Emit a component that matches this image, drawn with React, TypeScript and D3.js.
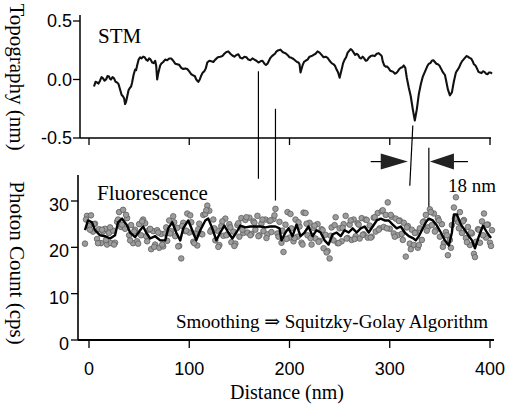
import React from 'react';
import * as d3 from 'd3';

// STM topography trace: [distance nm, height nm]
const stmTrace: [number, number][] = [
  [5, -0.06], [8, -0.025], [11, -0.01], [14, 0.01], [17, 0.0], [20, 0.025], [22, 0.0], [25, 0.01],
  [28, -0.025], [31, -0.085], [34, -0.145], [36, -0.21], [38, -0.15], [41, -0.07], [43, -0.025],
  [46, 0.085], [48, 0.12], [51, 0.19], [54, 0.195], [57, 0.17], [60, 0.18], [63, 0.145], [66, 0.16],
  [68, 0.0], [70, 0.085], [72, 0.135], [76, 0.17], [80, 0.18], [84, 0.16], [88, 0.13], [92, 0.1],
  [96, 0.095], [100, 0.07], [104, 0.035], [107, 0.0], [109, -0.02], [112, 0.035], [115, 0.07],
  [118, 0.145], [122, 0.155], [126, 0.17], [131, 0.195], [135, 0.22], [139, 0.24], [143, 0.205],
  [147, 0.21], [151, 0.185], [155, 0.195], [159, 0.17], [163, 0.18], [167, 0.16], [171, 0.155],
  [175, 0.135], [178, 0.135], [181, 0.185], [184, 0.21], [187, 0.24], [191, 0.255], [194, 0.23],
  [198, 0.21], [202, 0.185], [206, 0.16], [209, 0.145], [211, 0.06], [213, 0.12], [216, 0.16],
  [220, 0.195], [224, 0.21], [228, 0.24], [232, 0.21], [236, 0.195], [240, 0.16], [244, 0.13],
  [247, 0.085], [250, 0.015], [252, 0.085], [255, 0.17], [258, 0.23], [261, 0.26], [264, 0.23],
  [267, 0.22], [270, 0.185], [273, 0.195], [276, 0.16], [279, 0.185], [283, 0.205], [287, 0.22],
  [291, 0.21], [293, 0.155], [296, 0.11], [299, 0.095], [302, 0.07], [305, 0.05], [308, 0.07],
  [311, 0.1], [314, 0.12], [317, 0.015], [319, -0.07], [321, -0.145], [323, -0.255], [325, -0.35],
  [327, -0.255], [329, -0.125], [331, -0.04], [333, 0.025], [336, 0.085], [339, 0.135], [342, 0.16],
  [345, 0.15], [348, 0.13], [351, 0.095], [354, 0.05], [356, 0.0], [358, -0.085], [360, -0.135],
  [362, -0.11], [364, -0.015], [366, 0.06], [369, 0.1], [372, 0.155], [375, 0.185], [378, 0.195],
  [381, 0.18], [384, 0.13], [387, 0.095], [390, 0.06], [393, 0.07], [396, 0.05], [399, 0.06], [402, 0.05],
];

// in-between readings of the STM trace (the small steps of the scan)
const stmDetail: [number, number][] = [
  [6.5, -0.02], [9.5, -0.035], [12.5, 0.02], [15.5, -0.01], [18.5, 0.03], [21, 0.005], [23.5, 0.02],
  [26.5, -0.02], [29.5, -0.04], [32.5, -0.13], [35, -0.16], [37, -0.19], [39.5, -0.09], [42, -0.06],
  [44.5, 0.04], [47, 0.08], [49.5, 0.17], [52.5, 0.18], [55.5, 0.19], [58.5, 0.16], [61.5, 0.17],
  [64.5, 0.14], [67, 0.12], [69, 0.05], [71, 0.12], [74, 0.15], [78, 0.165], [82, 0.18], [86, 0.135],
  [90, 0.125], [94, 0.09], [98, 0.09], [102, 0.045], [105.5, 0.03], [110.5, 0.0], [113.5, 0.06],
  [116.5, 0.095], [120, 0.16], [124, 0.15], [128.5, 0.19], [133, 0.2], [137, 0.235], [141, 0.22],
  [145, 0.195], [149, 0.215], [153, 0.18], [157, 0.19], [161, 0.165], [165, 0.17], [169, 0.145],
  [173, 0.16], [176.5, 0.125], [179.5, 0.16], [182.5, 0.2], [185.5, 0.22], [189, 0.25], [192.5, 0.24],
  [196, 0.225], [200, 0.19], [204, 0.175], [207.5, 0.15], [210, 0.13], [214.5, 0.15], [218, 0.17],
  [222, 0.2], [226, 0.22], [230, 0.23], [234, 0.19], [238, 0.185], [242, 0.14], [245.5, 0.115],
  [248.5, 0.06], [253.5, 0.14], [256.5, 0.19], [259.5, 0.245], [262.5, 0.25], [265.5, 0.21],
  [268.5, 0.21], [271.5, 0.18], [274.5, 0.18], [277.5, 0.165], [281, 0.2], [285, 0.2], [289, 0.225],
  [292, 0.2], [294.5, 0.12], [297.5, 0.11], [300.5, 0.075], [303.5, 0.065], [306.5, 0.055],
  [309.5, 0.09], [312.5, 0.105], [315.5, 0.1], [337.5, 0.115], [340.5, 0.14], [343.5, 0.165],
  [346.5, 0.135], [349.5, 0.12], [352.5, 0.07], [355, 0.04], [367.5, 0.08], [370.5, 0.13],
  [373.5, 0.17], [376.5, 0.2], [379.5, 0.185], [382.5, 0.16], [385.5, 0.12], [388.5, 0.065],
  [391.5, 0.055], [394.5, 0.065], [397.5, 0.045], [400.5, 0.06],
];

// raw photon counts, sampled every 2 nm from -4 nm
const rawStart = -4;
const rawStep = 2;
const rawCounts: number[] = [
  20.8, 26.8, 24.6, 26.9, 23.4, 25.1, 21.8, 23.9, 20.9, 23.4,
  24.0, 20.6, 23.1, 20.9, 23.6, 21.0, 25.5, 27.6, 24.4, 28.1,
  24.0, 26.3, 22.6, 24.8, 20.9, 23.8, 21.3, 25.0, 22.6, 26.0,
  25.2, 21.3, 23.8, 19.6, 23.5, 20.6, 23.7, 19.9, 22.9, 20.2,
  23.0, 21.4, 25.8, 23.5, 26.7, 22.4, 24.2, 20.3, 17.6, 25.3,
  23.5, 27.3, 23.2, 25.4, 21.2, 23.0, 20.4, 25.1, 22.9, 27.0,
  27.2, 29.0, 27.9, 23.8, 26.0, 21.5, 23.6, 20.5, 24.6, 22.5,
  26.2, 22.8, 25.0, 21.1, 23.4, 20.8, 24.8, 22.3, 26.3, 23.1,
  25.9, 23.2, 26.4, 22.9, 25.6, 23.8, 26.8, 22.6, 25.1, 23.5,
  26.0, 22.8, 25.7, 23.3, 26.1, 28.3, 23.0, 25.5, 21.0, 19.0,
  24.9, 27.6, 22.1, 24.1, 21.3, 26.0, 22.3, 24.5, 21.0, 27.5,
  27.4, 22.6, 25.3, 20.6, 24.2, 21.9, 25.0, 21.4, 23.9, 19.8,
  22.7, 19.2, 17.6, 24.3, 21.5, 26.5, 20.9, 24.1, 21.3, 25.0,
  26.8, 22.0, 24.9, 21.6, 26.0, 22.4, 25.2, 21.9, 26.3, 22.8,
  26.0, 22.1, 24.7, 22.3, 26.4, 23.4, 27.4, 24.1, 27.8, 24.4,
  27.0, 29.7, 24.0, 26.6, 23.0, 26.2, 22.6, 25.8, 22.9, 25.3,
  18.0, 24.6, 20.8, 23.8, 20.5, 23.2, 19.9, 24.1, 21.6, 25.6,
  27.0, 24.3, 28.2, 24.8, 27.3, 23.7, 26.3, 22.3, 25.0, 20.9,
  23.3, 18.3, 21.6, 24.8, 28.6, 30.8, 25.5, 27.6, 23.1, 25.9,
  22.0, 24.4, 20.5, 23.0, 18.6, 21.2, 23.9, 21.0, 25.6, 27.3,
  22.1, 24.9, 21.0, 23.7,
];

// second set of raw counts, every 4 nm from -3 nm
const raw2Start = -3;
const raw2Step = 4;
const rawCounts2: number[] = [
  26.0, 23.8, 25.0, 20.9, 23.8, 21.6, 24.3, 20.6, 26.0, 24.9,
  27.0, 21.5, 23.4, 20.8, 25.6, 22.4, 24.0, 20.1, 23.2, 20.6,
  24.3, 23.0, 25.4, 20.2, 24.6, 23.6, 26.9, 20.9, 23.9, 22.8,
  28.0, 23.4, 24.1, 20.1, 25.6, 22.6, 24.3, 20.3, 25.2, 23.8,
  26.5, 22.6, 25.3, 22.4, 26.0, 22.0, 25.8, 26.9, 22.3, 23.6,
  21.8, 27.2, 22.0, 25.4, 20.6, 25.1, 22.0, 24.7, 21.2, 23.7,
  18.9, 22.5, 24.8, 20.9, 24.2, 21.9, 25.8, 21.8, 24.9, 22.7,
  25.9, 22.1, 26.5, 23.8, 28.0, 24.1, 27.0, 22.3, 25.7, 21.6,
  24.3, 19.6, 23.1, 20.5, 25.4, 23.6, 27.6, 23.4, 25.8, 20.1,
  22.6, 19.9, 26.2, 24.1, 25.6, 21.1, 23.2, 17.9, 23.8, 22.6,
  24.9, 20.3,
];

// Savitzky-Golay smoothed counts: [distance nm, cps]
const smoothCounts: [number, number][] = [
  [-4, 23.7], [-1, 25.8], [3, 25.4], [6, 23.7], [11, 22.6], [16, 22.4], [21, 21.9], [26, 22.6],
  [29, 25.4], [33, 26.2], [38, 24.7], [41, 23.2], [46, 22.2], [51, 23.7], [54, 24.5], [57, 23.2],
  [61, 21.9], [66, 22.4], [71, 21.5], [76, 21.5], [79, 24.1], [83, 25.4], [87, 23.2], [91, 21.5],
  [94, 24.1], [99, 25.8], [103, 23.7], [107, 21.5], [111, 23.7], [116, 25.8], [119, 26.2],
  [123, 24.1], [127, 21.5], [131, 23.2], [135, 24.7], [139, 23.2], [143, 21.9], [147, 23.2],
  [151, 24.7], [156, 24.3], [161, 24.5], [166, 24.5], [171, 24.5], [176, 24.3], [181, 24.5],
  [186, 24.5], [190, 24.1], [192, 21.5], [196, 23.2], [199, 24.1], [203, 22.4], [207, 24.9],
  [211, 22.4], [215, 23.2], [219, 24.5], [223, 22.4], [227, 23.7], [231, 23.2], [235, 21.5],
  [239, 20.6], [243, 22.8], [247, 23.2], [251, 22.4], [255, 23.7], [259, 23.2], [263, 24.1],
  [267, 23.2], [271, 24.1], [275, 24.5], [279, 23.2], [283, 24.5], [287, 25.8], [291, 26.2],
  [295, 25.8], [299, 25.8], [303, 24.9], [307, 24.1], [311, 24.5], [315, 23.2], [319, 22.4],
  [323, 22.0], [326, 21.5], [329, 22.4], [333, 24.1], [336, 25.4], [339, 26.2], [343, 25.8],
  [347, 24.7], [351, 23.2], [355, 21.5], [359, 20.4], [362, 23.2], [364, 27.1], [367, 27.1],
  [371, 24.9], [375, 23.7], [379, 22.4], [382, 21.5], [385, 19.8], [389, 22.4], [393, 24.7],
  [397, 23.2], [401, 22.0],
];

const xTicks = [0, 100, 200, 300, 400];
const topTicks = [-0.5, 0, 0.5];
const topTickLabels = ['-0.5', '0.0', '0.5'];
const bottomTicks = [0, 10, 20, 30];

// vertical guide lines linking the two panels: [x top, y top (cps scale), x bottom, y bottom]
const guideLines: [number, number, number, number][] = [
  [169, 58.0, 169, 34.8],
  [186, 49.9, 186, 30.1],
  [323, 46.3, 320, 33.3],
  [339, 41.5, 339, 28.6],
];

const W = 509;
const H = 405;
const serif = '"Liberation Serif", "DejaVu Serif", serif';
const sans = '"Liberation Sans", Arial, sans-serif';

export default function App() {
  const x = d3.scaleLinear().domain([0, 400]).range([89, 490]);
  const yTop = d3.scaleLinear().domain([-0.5, 0.5]).range([138, 21]);
  const yBot = d3.scaleLinear().domain([0, 30]).range([340, 201]);

  const stmAll = [...stmTrace, ...stmDetail].sort((a, b) => a[0] - b[0]);

  const stmLine = d3.line<[number, number]>()
    .x(d => x(d[0]))
    .y(d => yTop(d[1]));

  const smoothLine = d3.line<[number, number]>()
    .x(d => x(d[0]))
    .y(d => yBot(d[1]));

  const rawPts: [number, number][] = [
    ...rawCounts.map((v, i) => [rawStart + i * rawStep, v] as [number, number]),
    ...rawCounts2.map((v, i) => [raw2Start + i * raw2Step, v] as [number, number]),
  ];

  const arrowY = yBot(38.5);

  return (
    <svg width={W} height={H} style={{ position: 'absolute', left: 0, top: 0, background: '#fff' }}>
      {/* top panel (STM) */}
      <line x1={80} x2={80} y1={15} y2={yTop(-0.5)} stroke="#000" strokeWidth={1.5} />
      <line x1={80} x2={491} y1={yTop(-0.5)} y2={yTop(-0.5)} stroke="#000" strokeWidth={1.5} />
      {topTicks.map((t, i) => (
        <g key={'tt' + t}>
          <line x1={73} x2={80} y1={yTop(t)} y2={yTop(t)} stroke="#000" strokeWidth={1.3} />
          <text x={72} y={yTop(t)} dy="0.36em" textAnchor="end" fontFamily={sans} fontSize={18}>
            {topTickLabels[i]}
          </text>
        </g>
      ))}
      {xTicks.map(t => (
        <line key={'tx' + t} x1={x(t)} x2={x(t)} y1={yTop(-0.5)} y2={yTop(-0.5) + 7}
          stroke="#000" strokeWidth={1.3} />
      ))}
      <path d={stmLine(stmAll) ?? ''} fill="none" stroke="#111" strokeWidth={2.1} strokeLinejoin="round" />
      <text x={98} y={43} fontFamily={serif} fontSize={21}>STM</text>
      <text transform={`translate(10,77) rotate(90)`} textAnchor="middle" fontFamily={serif} fontSize={21}>
        Topography (nm)
      </text>

      {/* guide lines and 18 nm arrows */}
      {guideLines.map((g, i) => (
        <line key={'g' + i} x1={x(g[0])} x2={x(g[2])} y1={yBot(g[1])} y2={yBot(g[3])}
          stroke="#000" strokeWidth={1.2} />
      ))}
      <line x1={x(281)} x2={x(292)} y1={arrowY} y2={arrowY} stroke="#000" strokeWidth={1.2} />
      <path d={`M${x(291)},${arrowY - 8}L${x(318)},${arrowY}L${x(291)},${arrowY + 8}Z`} fill="#222" />
      <line x1={x(362)} x2={x(378)} y1={arrowY} y2={arrowY} stroke="#000" strokeWidth={1.2} />
      <path d={`M${x(364)},${arrowY - 8}L${x(340)},${arrowY}L${x(364)},${arrowY + 8}Z`} fill="#222" />
      <text x={448} y={192} fontFamily={serif} fontSize={19}>18 nm</text>

      {/* bottom panel (fluorescence) */}
      {rawPts.map((p, i) => (
        <circle key={'r' + i} cx={x(p[0])} cy={yBot(p[1])} r={2.8}
          fill="#9c9c9c" stroke="#606060" strokeWidth={0.8} />
      ))}
      <path d={smoothLine(smoothCounts) ?? ''} fill="none" stroke="#000" strokeWidth={2.4} strokeLinejoin="round" />

      <line x1={78} x2={78} y1={175} y2={yBot(0)} stroke="#000" strokeWidth={1.6} />
      <line x1={78} x2={494} y1={yBot(0)} y2={yBot(0)} stroke="#000" strokeWidth={2} />
      {bottomTicks.map(t => (
        <g key={'bt' + t}>
          <line x1={71} x2={78} y1={yBot(t)} y2={yBot(t)} stroke="#000" strokeWidth={1.3} />
          <text x={69} y={yBot(t)} dy="0.55em" textAnchor="end" fontFamily={sans} fontSize={18}>{t}</text>
        </g>
      ))}
      {xTicks.map(t => (
        <g key={'bx' + t}>
          <line x1={x(t)} x2={x(t)} y1={yBot(0)} y2={yBot(0) + 8} stroke="#000" strokeWidth={1.3} />
          <text x={x(t)} y={375} textAnchor="middle" fontFamily={sans} fontSize={18}>{t}</text>
        </g>
      ))}
      <text x={97} y={200} fontFamily={serif} fontSize={21}>Fluorescence</text>
      <text x={488} y={328} textAnchor="end" fontFamily={serif} fontSize={19}>
        Smoothing ⇒ Squitzky-Golay Algorithm
      </text>
      <text x={287} y={399} textAnchor="middle" fontFamily={serif} fontSize={20}>Distance (nm)</text>
      <text transform={`translate(10,263) rotate(90)`} textAnchor="middle" fontFamily={serif} fontSize={21}>
        Photon Count (cps)
      </text>
    </svg>
  );
}
